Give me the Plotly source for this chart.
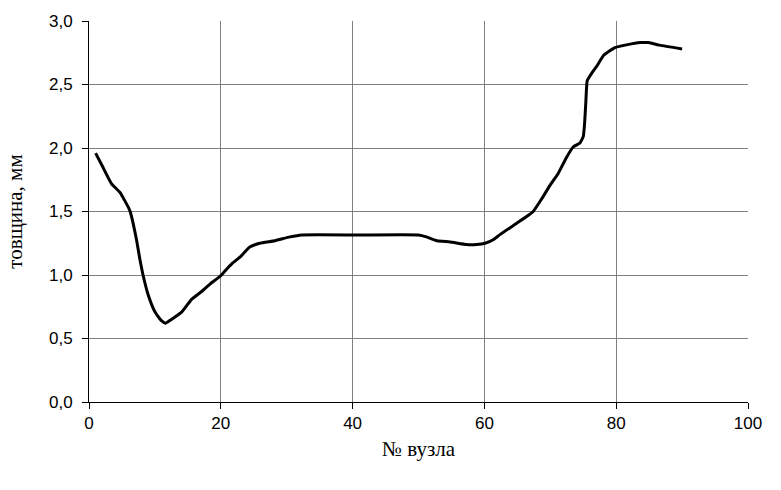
import plotly.graph_objects as go

# Node number along the profile and measured thickness (mm)
node = [1, 2, 3.4, 4.7, 6.0, 6.3, 7.2, 7.7, 8.2, 9.0, 10.0, 11.0, 11.6, 12.5, 14.1,
        15.6, 17.1, 18.4, 19.9, 20.6, 21.7, 22.9, 24.4, 25.9, 28.2, 30.5, 32.3, 41.0,
        50.0, 51.2, 52.8, 54.8, 57.3, 58.8, 60.1, 61.4, 62.4, 64.4, 66.4, 67.4, 68.7,
        70.0, 71.2, 72.5, 73.5, 74.5, 75.0, 75.2, 75.4, 75.6, 76.3, 77.0, 78.1, 79.8,
        82.3, 83.6, 84.9, 86.6, 90.0]
thickness = [1.96, 1.86, 1.72, 1.65, 1.53, 1.49, 1.28, 1.13, 1.00, 0.84, 0.71, 0.64, 0.62,
             0.65, 0.71, 0.81, 0.87, 0.93, 0.99, 1.03, 1.09, 1.14, 1.22, 1.25, 1.27, 1.30,
             1.315, 1.315, 1.315, 1.30, 1.27, 1.26, 1.24, 1.24, 1.25, 1.28, 1.32, 1.39,
             1.46, 1.50, 1.60, 1.71, 1.80, 1.93, 2.01, 2.04, 2.09, 2.19, 2.37, 2.53, 2.59,
             2.64, 2.73, 2.79, 2.82, 2.83, 2.83, 2.81, 2.78]

x_ticks = [0, 20, 40, 60, 80, 100]
y_ticks = [0.0, 0.5, 1.0, 1.5, 2.0, 2.5, 3.0]

fig = go.Figure()
fig.add_trace(go.Scatter(
    x=node, y=thickness, mode="lines",
    line=dict(color="black", width=3, shape="spline", smoothing=0.4),
    showlegend=False, hoverinfo="skip",
))

tick_font = dict(family="Liberation Sans, Arial", size=17, color="black")
title_font = dict(family="Liberation Serif, Times New Roman", size=21, color="black")

fig.update_layout(
    width=781, height=490,
    margin=dict(l=89, r=33, t=16, b=88),
    paper_bgcolor="white", plot_bgcolor="white",
    separators=", ",
    xaxis=dict(
        range=[0, 100], tickvals=x_ticks, ticks="outside", ticklen=6,
        tickcolor="black", showline=True, linecolor="black", linewidth=1,
        showgrid=True, gridcolor="#808080", gridwidth=1, zeroline=False,
        tickfont=tick_font, ticklabelstandoff=0,
        title=dict(text="№ вузла", font=title_font, standoff=8),
    ),
    yaxis=dict(
        range=[0, 3.0], tickvals=y_ticks, tickformat=".1f", ticks="outside",
        ticklen=6, tickcolor="black", showline=True, linecolor="black",
        linewidth=1, showgrid=True, gridcolor="#808080", gridwidth=1,
        zeroline=False, tickfont=tick_font, ticklabelstandoff=6,
        title=dict(text="товщина, мм", font=title_font, standoff=20),
    ),
)

fig.write_html("out.html")
